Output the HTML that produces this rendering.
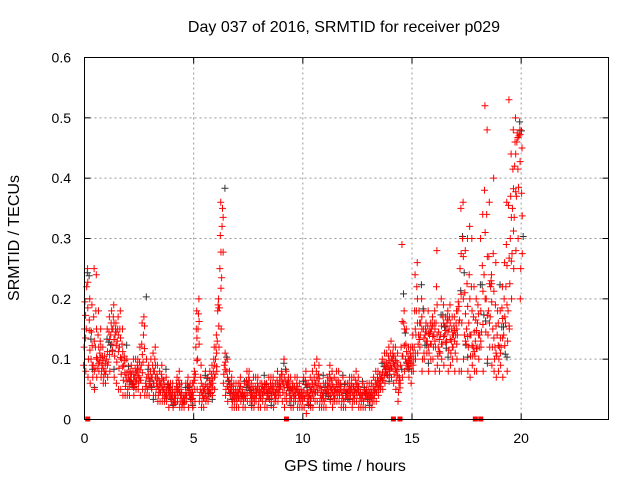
<!DOCTYPE html>
<html><head><meta charset="utf-8"><style>
body{margin:0;background:#fff}
svg{display:block;font-family:"Liberation Sans",sans-serif}
</style></head><body>
<svg id="chart" width="640" height="480">
<rect width="640" height="480" fill="#fff"/>
<text x="344" y="32" text-anchor="middle" font-size="16">Day 037 of 2016, SRMTID for receiver p029</text>
<text x="345" y="471" text-anchor="middle" font-size="16">GPS time / hours</text>
<text transform="translate(19,238) rotate(-90)" text-anchor="middle" font-size="16">SRMTID / TECUs</text>
<g id="grid"></g>
<g id="marks"></g>
<rect x="84.5" y="57.5" width="524" height="362" fill="none" stroke="#000"/>
</svg>
<script>
const xTicks=[0,5,10,15,20];
const yTicks=[0,0.1,0.2,0.3,0.4,0.5,0.6];
const yTickLabels=["0","0.1","0.2","0.3","0.4","0.5","0.6"];
const lo=[.09,.08,.07,.06,.05,.05,.07,.08,.07,.06,
.06,.07,.08,.08,.07,.06,.05,.05,.04,.04,
.04,.04,.05,.04,.05,.05,.04,.05,.04,.04,
.04,.03,.04,.04,.03,.03,.03,.03,.03,.02,
.02,.02,.03,.03,.02,.02,.02,.03,.02,.02,
.02,.03,.05,.03,.02,.02,.03,.03,.03,.04,
.05,.08,.12,.15,.06,.04,.03,.03,.02,.02,
.02,.02,.03,.02,.02,.03,.02,.02,.02,.03,
.02,.02,.03,.02,.02,.02,.03,.02,.03,.03,
.04,.03,.02,.03,.02,.02,.02,.03,.02,.02,
.02,.02,.01,.02,.02,.02,.03,.03,.02,.02,
.02,.02,.03,.03,.02,.03,.03,.03,.02,.02,
.02,.03,.03,.02,.03,.03,.02,.02,.02,.02,
.02,.02,.02,.03,.03,.04,.05,.05,.06,.06,
.07,.07,.06,.05,.03,.06,.07,.08,.08,.07,
.06,.08,.10,.11,.12,.08,.10,.09,.08,.10,
.10,.08,.09,.08,.10,.09,.10,.08,.09,.10,
.08,.10,.08,.08,.10,.10,.08,.07,.09,.08,
.08,.10,.12,.08,.09,.10,.12,.09,.08,.07,
.08,.09,.07,.10,.08,.15,.20,.25,.28,.30,
.20];
const mid=[.15,.22,.13,.10,.09,.12,.10,.11,.09,.08,
.10,.12,.14,.15,.14,.13,.12,.10,.09,.07,
.06,.07,.06,.07,.08,.07,.09,.14,.06,.06,
.06,.07,.08,.06,.05,.06,.05,.04,.05,.04,
.04,.03,.05,.05,.04,.03,.04,.05,.04,.04,
.06,.12,.15,.05,.04,.05,.04,.05,.06,.08,
.10,.18,.25,.32,.09,.06,.05,.05,.04,.04,
.04,.05,.04,.04,.05,.06,.04,.04,.04,.05,
.04,.05,.05,.04,.04,.05,.05,.04,.05,.05,
.07,.06,.05,.06,.04,.05,.04,.05,.04,.04,
.04,.05,.03,.04,.05,.05,.06,.06,.04,.04,
.04,.05,.06,.05,.04,.05,.05,.05,.04,.04,
.04,.05,.05,.04,.05,.05,.04,.04,.04,.04,
.04,.04,.04,.05,.06,.06,.07,.08,.08,.09,
.09,.10,.09,.08,.06,.12,.14,.10,.09,.10,
.10,.12,.18,.14,.16,.12,.14,.13,.14,.15,
.14,.16,.12,.14,.15,.14,.16,.15,.13,.14,
.14,.18,.25,.24,.14,.15,.16,.14,.12,.13,
.16,.14,.17,.24,.20,.18,.22,.15,.12,.14,
.12,.15,.14,.22,.18,.30,.35,.42,.46,.47,
.30];
const hi=[.24,.25,.20,.19,.25,.24,.18,.15,.12,.13,
.15,.17,.18,.19,.16,.17,.18,.15,.12,.10,
.08,.09,.10,.10,.10,.12,.16,.20,.10,.09,
.10,.11,.12,.09,.08,.09,.08,.07,.06,.06,
.06,.05,.07,.08,.06,.05,.06,.07,.06,.06,
.08,.18,.20,.09,.07,.08,.07,.08,.09,.12,
.14,.20,.36,.38,.11,.10,.08,.07,.06,.06,
.06,.07,.06,.06,.08,.08,.06,.07,.07,.07,
.06,.07,.06,.06,.07,.07,.07,.06,.08,.07,
.09,.10,.08,.07,.07,.06,.07,.07,.06,.06,
.07,.08,.06,.07,.08,.09,.10,.09,.07,.06,
.06,.07,.09,.08,.07,.08,.08,.07,.07,.06,
.06,.07,.07,.07,.08,.07,.06,.06,.05,.06,
.06,.06,.07,.08,.08,.09,.10,.11,.11,.12,
.13,.12,.12,.11,.08,.29,.18,.15,.12,.12,
.14,.24,.26,.22,.20,.18,.16,.18,.16,.17,
.18,.28,.17,.20,.19,.17,.18,.19,.17,.17,
.18,.21,.35,.36,.28,.30,.32,.30,.22,.20,
.22,.30,.34,.52,.48,.36,.24,.40,.26,.22,
.18,.22,.26,.36,.53,.44,.48,.50,.49,.48,
.45];
const zeroTimes=[0.15,9.25,14.15,14.45,17.9,18.15];
const ns="http://www.w3.org/2000/svg";
const X0=84.5,X1=608.5,Y0=419.5,Y1=57.5;
function xs(t){return X0+(X1-X0)*t/24;}
function ys(v){return Y0-(Y0-Y1)*v/0.6;}
const grid=document.getElementById('grid');
const marks=document.getElementById('marks');
function mk(tag,attrs,parent){const e=document.createElementNS(ns,tag);for(const k in attrs)e.setAttribute(k,attrs[k]);parent.appendChild(e);return e;}
xTicks.forEach((t,i)=>{
  const x=xs(t);
  if(i>0){const g=mk('line',{x1:x,x2:x,y1:Y0,y2:Y1,stroke:'#999','stroke-dasharray':'2,3'},grid);
  
  }
  mk('line',{x1:x,x2:x,y1:Y0,y2:Y0-6,stroke:'#000'},grid);
  mk('line',{x1:x,x2:x,y1:Y1,y2:Y1+6,stroke:'#000'},grid);
  const l=mk('text',{x:x,y:443,'text-anchor':'middle','font-size':'14'},grid);
  l.textContent=String(t);
  
  
});
yTicks.forEach((v,i)=>{
  const y=ys(v);
  if(i>0&&i<yTicks.length-1){const g=mk('line',{x1:X0,x2:X1,y1:y,y2:y,stroke:'#999','stroke-dasharray':'2,3'},grid);
  
  }
  mk('line',{x1:X0,x2:X0+6,y1:y,y2:y,stroke:'#000'},grid);
  mk('line',{x1:X1,x2:X1-6,y1:y,y2:y,stroke:'#000'},grid);
  const l=mk('text',{x:71,y:y+5,'text-anchor':'end','font-size':'14'},grid);
  l.textContent=yTickLabels[i];
  
  
});
let d='',dk='';
function plus(x,y){return 'M'+(x-3.5)+' '+y+'h7M'+x+' '+(y-3.5)+'v7';}
const offs=[-0.04,-0.02,0,0.02,0.04];
for(let i=0;i<mid.length;i++){
  const t=i*0.1;
  const vals=[lo[i],(lo[i]+mid[i])/2,mid[i],(mid[i]+hi[i])/2,hi[i]];
  vals.forEach((v,j)=>{
    const x=xs(t+offs[j]),y=ys(v);
    if((i+j)%9===4) dk+=plus(x+2,y-2); else d+=plus(x,y);
    if(j===1||j===2) d+=plus(xs(t+0.05),ys((v+vals[j+1])/2));
  });
}
const pk=mk('path',{d:dk,stroke:'#333','stroke-width':1,fill:'none'},marks);


const pr=mk('path',{d:d,stroke:'#f00','stroke-width':1,fill:'none'},marks);


zeroTimes.forEach(t=>{
  const r=mk('rect',{x:xs(t)-2.5,y:ys(0)-3,width:5,height:5,fill:'#f00'},marks);
  
  
});
</script>
</body></html>
